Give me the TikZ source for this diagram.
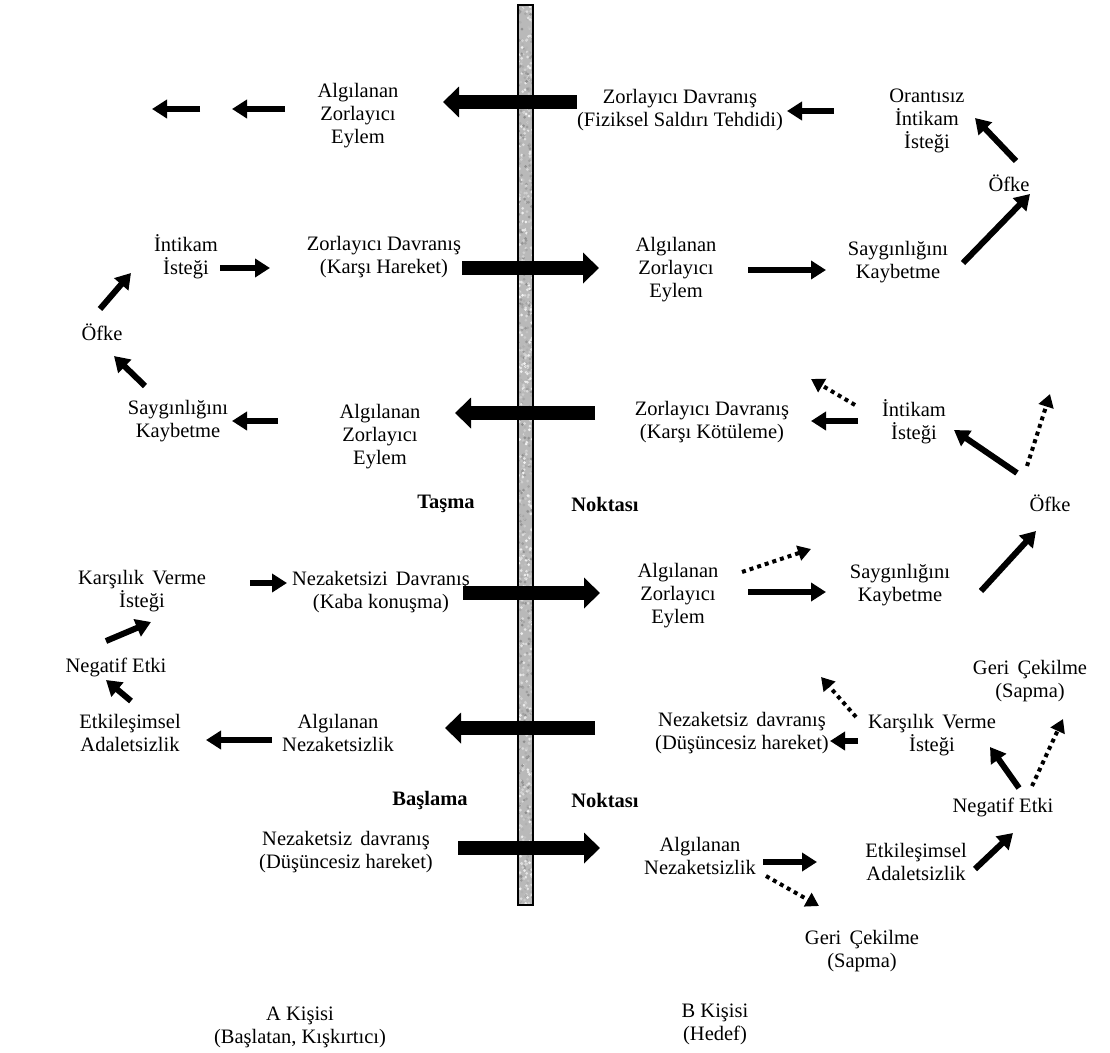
\documentclass[tikz,border=0pt]{standalone}
\usepackage{fontspec}
\setmainfont{Liberation Serif}
\usetikzlibrary{arrows.meta}
\begin{document}
\begin{tikzpicture}[x=1pt,y=-1pt,
  lbl/.style={align=center,font=\fontsize{20.5}{23}\selectfont,inner sep=0pt},
  bold/.style={font=\fontsize{20.5}{23}\selectfont\bfseries,inner sep=0pt},
  bigarrow/.style={line width=14pt,-{Triangle[length=16pt,width=30pt]}},
  arr/.style={line width=6pt,-{Triangle[length=15pt,width=18pt]}},
  darr/.style={line width=4pt,dash pattern=on 4pt off 4pt,-{Triangle[length=13pt,width=15pt]}},
]
\useasboundingbox (0,0) rectangle (1110,1052);

% ---- central granite bar ----
\begin{scope}
  \clip (518,5) rectangle (533,905);
  \fill[gray!55] (518,5) rectangle (533,905);
  \pgfmathsetseed{42}
  \foreach \i in {1,...,1000}{
    \pgfmathsetmacro{\yy}{5+900*rnd}
    \pgfmathsetmacro{\xx}{518+15*rnd}
    \pgfmathsetmacro{\sh}{int(10+80*rnd)}
    \fill[gray!\sh] (\xx,\yy) circle (1.5);
  }
\end{scope}
\draw[line width=1.4pt] (518,5) rectangle (533,905);

% ---- texts, person A side ----
\node[lbl] (a1) at (358,116) {Algılanan\\Zorlayıcı\\Eylem};
\node[lbl] (a2) at (186,257) {İntikam\\İsteği};
\node[lbl] (a3) at (384,257) {Zorlayıcı Davranış\\(Karşı Hareket)};
\node[lbl] (a4) at (102,332) {Öfke};
\node[lbl] (a5) at (178,421) {Saygınlığını\\Kaybetme};
\node[lbl] (a6) at (380,437) {Algılanan\\Zorlayıcı\\Eylem};
\node[bold] (tas) at (446,504) {Taşma};
\node[lbl] (a7) at (142,591) {Karşılık\hspace{0.15em} Verme\\İsteği};
\node[lbl] (a8) at (381,592) {Nezaketsizi\hspace{0.15em} Davranış\\(Kaba konuşma)};
\node[lbl] (a9) at (116,667) {Negatif Etki};
\node[lbl] (a10) at (130,733) {Etkileşimsel\\Adaletsizlik};
\node[lbl] (a11) at (338,733) {Algılanan\\Nezaketsizlik};
\node[bold] (bas) at (430,800) {Başlama};
\node[lbl] (a12) at (346,852) {Nezaketsiz\hspace{0.15em} davranış\\(Düşüncesiz hareket)};
\node[lbl] (pa) at (300,1027) {A Kişisi\\(Başlatan, Kışkırtıcı)};

% ---- texts, person B side ----
\node[lbl] (b1) at (680,110) {Zorlayıcı Davranış\\(Fiziksel Saldırı Tehdidi)};
\node[lbl] (b2) at (927,121) {Orantısız\\İntikam\\İsteği};
\node[lbl] (b3) at (1009,183) {Öfke};
\node[lbl] (b4) at (676,270) {Algılanan\\Zorlayıcı\\Eylem};
\node[lbl] (b5) at (898,262) {Saygınlığını\\Kaybetme};
\node[lbl] (b6) at (712,422) {Zorlayıcı Davranış\\(Karşı Kötüleme)};
\node[lbl] (b7) at (914,422) {İntikam\\İsteği};
\node[lbl] (b8) at (1050,503) {Öfke};
\node[bold] (nok1) at (605,504) {Noktası};
\node[lbl] (b9) at (678,596) {Algılanan\\Zorlayıcı\\Eylem};
\node[lbl] (b10) at (900,585) {Saygınlığını\\Kaybetme};
\node[lbl] (b11) at (742,733) {Nezaketsiz\hspace{0.15em} davranış\\(Düşüncesiz hareket)};
\node[lbl] (b12) at (932,735) {Karşılık\hspace{0.15em} Verme\\İsteği};
\node[lbl] (b13) at (1030,681) {Geri\hspace{0.15em} Çekilme\\(Sapma)};
\node[lbl] (b14) at (1003,807) {Negatif Etki};
\node[bold] (nok2) at (605,800) {Noktası};
\node[lbl] (b15) at (700,856) {Algılanan\\Nezaketsizlik};
\node[lbl] (b16) at (916,862) {Etkileşimsel\\Adaletsizlik};
\node[lbl] (b17) at (862,951) {Geri\hspace{0.15em} Çekilme\\(Sapma)};
\node[lbl] (pb) at (715,1024) {B Kişisi\\(Hedef)};

% ---- open ends of the leftmost chain ----
\coordinate (o1) at (200,109);  \coordinate (o1t) at (152,109);
\coordinate (o2) at (285,109);  \coordinate (o2t) at (232,109);

% ---- big arrows crossing the bar ----
\draw[bigarrow] (577,102) coordinate (x1) -- (443,102) coordinate (x1t);
\draw[bigarrow] (462,268) coordinate (x2) -- (599,268) coordinate (x2t);
\draw[bigarrow] (595,413) coordinate (x3) -- (455,413) coordinate (x3t);
\draw[bigarrow] (463,593) coordinate (x4) -- (600,593) coordinate (x4t);
\draw[bigarrow] (595,728) coordinate (x5) -- (445,728) coordinate (x5t);
\draw[bigarrow] (458,848) coordinate (x6) -- (600,848) coordinate (x6t);

% ---- person A chain ----
\draw[arr] (o1) -- (o1t);
\draw[arr] (o2) -- (o2t);
\draw[arr] (220,268) -- (270,268);
\draw[arr] (100,309) -- (131,273);
\draw[arr] (145,386) -- (114,356);
\draw[arr] (278,421) -- (232,421);
\draw[arr] (250,583) -- (287,583);
\draw[arr] (106,641) -- (151,622);
\draw[arr] (131,701) -- (106,680);
\draw[arr] (272,740) -- (206,740);

% ---- person B chain ----
\draw[arr] (834,111) -- (787,111);
\draw[arr] (1016,161) -- (975,118);
\draw[arr] (748,270) -- (826,270);
\draw[arr] (963,263) -- (1030,194);
\draw[arr] (858,421) -- (811,421);
\draw[darr] (855,405) -- (811,379);
\draw[arr] (1017,473) -- (954,430);
\draw[darr] (1027,466) -- (1050,394);
\draw[arr] (748,592) -- (826,592);
\draw[darr] (742,572) -- (811,549);
\draw[arr] (981,591) -- (1036,531);
\draw[arr] (858,741) -- (830,741);
\draw[darr] (856,717) -- (821,677);
\draw[arr] (1019,788) -- (990,747);
\draw[darr] (1032,786) -- (1063,719);
\draw[arr] (763,862) -- (817,862);
\draw[darr] (766,876) -- (819,906);
\draw[arr] (975,869) -- (1013,833);
\end{tikzpicture}
\end{document}
